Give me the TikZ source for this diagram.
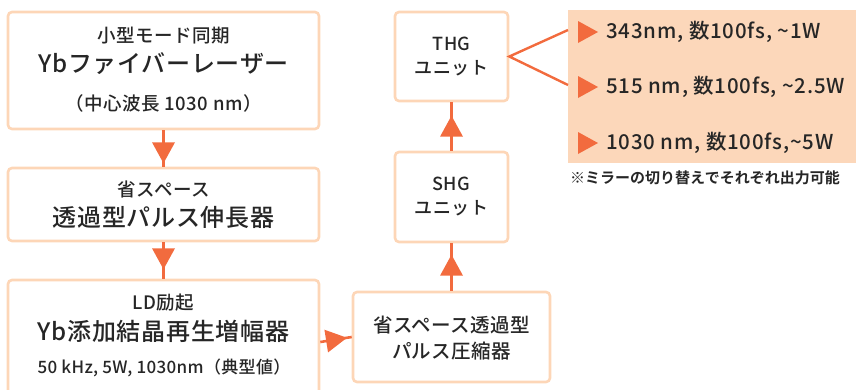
\documentclass[tikz,border=0pt]{standalone}
\usepackage{fontspec}
\setmainfont{Noto Sans CJK JP}[UprightFont=* Medium,BoldFont=* Bold]
\usetikzlibrary{decorations.markings,calc}
\definecolor{boxc}{HTML}{FDD6B7}
\definecolor{arrc}{HTML}{F26B3E}
\definecolor{panc}{HTML}{FCD7BA}
\definecolor{txt}{HTML}{262626}
\tikzset{
  blk/.style={draw=boxc,line width=2.6pt,rounded corners=4pt,fill=white,inner sep=0pt,align=center,text=txt},
  flow/.style={draw=arrc,line width=2.6pt,postaction={decorate},
    decoration={markings,mark=at position #1 with {\fill[arrc] (0,0)--(-21,11.5)--(-21,-11.5)--cycle;}}},
  fork/.style={draw=arrc,line width=2.4pt},
  tri/.style={fill=arrc},
  big/.style={text=txt,font=\fontsize{24}{26}\selectfont\addfontfeature{LetterSpace=3}},
  sml/.style={text=txt,font=\fontsize{18.5}{20}\selectfont\addfontfeature{LetterSpace=3}},
  ptxt/.style={anchor=west,text=txt,inner sep=0pt,font=\fontsize{20.5}{22}\selectfont\addfontfeature{LetterSpace=4}},
}
\begin{document}
\begin{tikzpicture}[x=1pt,y=-1pt]
\useasboundingbox (0,0) rectangle (856,389);
\clip (0,0) rectangle (856,389);
% boxes
\node[blk,minimum width=311pt,minimum height=117pt] (b1) at (163.5,70.5) {};
\node[blk,minimum width=311pt,minimum height=73pt] (b2) at (163.5,204.5) {};
\node[blk,minimum width=311pt,minimum height=124pt] (b3) at (163.5,342) {};
\node[blk,minimum width=197pt,minimum height=90pt] (cmp) at (451.5,337) {};
\node[blk,minimum width=113pt,minimum height=90pt] (shg) at (451.5,197) {};
\node[blk,minimum width=113pt,minimum height=89pt] (thg) at (451.5,56.5) {};
\node[fill=panc,inner sep=0pt,minimum width=300pt,minimum height=153pt,anchor=north west] (pan) at (568,10) {};
% texts
\node[sml] (t1a) at (163.5,36) {小型モード同期};
\node[big] (t1b) at (163.5,64) {Ybファイバーレーザー};
\node[sml] (t1c) at (163.5,103) {（中心波長 1030 nm）};
\node[sml] (t2a) at (163.5,189) {省スペース};
\node[big] (t2b) at (163.5,217) {透過型パルス伸長器};
\node[sml] (t3a) at (163.5,303) {LD励起};
\node[big] (t3b) at (163.5,331) {Yb添加結晶再生増幅器};
\node[text=txt,font=\fontsize{17}{18}\selectfont\addfontfeature{LetterSpace=2}] (t3c) at (164,368) {50 kHz, 5W, 1030nm（典型値）};
\node[text=txt,font=\fontsize{19.5}{26}\selectfont\addfontfeature{LetterSpace=2},align=center] (tc) at (451.5,338) {省スペース透過型\\パルス圧縮器};
\node[text=txt,font=\fontsize{18}{24}\selectfont\addfontfeature{LetterSpace=2},align=center] (ts) at (451.5,196) {SHG\\ユニット};
\node[text=txt,font=\fontsize{18}{24}\selectfont\addfontfeature{LetterSpace=2},align=center] (tt) at (451.5,56) {THG\\ユニット};
% connectors
\draw[flow=33pt] (b1.south) -- (b2.north);
\draw[flow=27pt] (b2.south) -- (b3.north);
\draw[flow=27pt] (b3.east) -- (cmp.west);
\draw[flow=36pt] (cmp.north) -- (shg.south);
\draw[flow=35pt] (shg.north) -- (thg.south);
\coordinate (p1) at (568,30);
\coordinate (p2) at (568,85);
\draw[fork] (p1) -- (thg.east) -- (p2);
% panel entries
\fill[tri] (578,21)--(598,32)--(578,43)--cycle;
\fill[tri] (578,76)--(598,87)--(578,98)--cycle;
\fill[tri] (578,132)--(598,143)--(578,154)--cycle;
\node[ptxt] (o1) at (606,32) {343nm, 数100fs, {\char"7E}1W};
\node[ptxt] (o2) at (606,87) {515 nm, 数100fs, {\char"7E}2.5W};
\node[ptxt] (o3) at (606,143) {1030 nm, 数100fs,{\char"7E}5W};
\node[anchor=west,inner sep=0pt,text=txt,font=\fontsize{15}{16}\selectfont\bfseries] (note) at (570,178) {※ミラーの切り替えでそれぞれ出力可能};
\end{tikzpicture}
\end{document}
